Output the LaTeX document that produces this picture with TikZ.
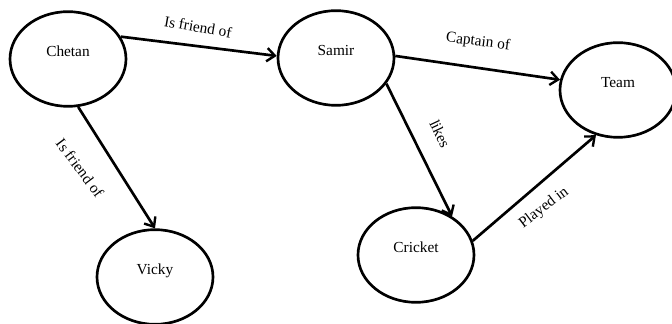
\documentclass[tikz,border=0pt]{standalone}
\usepackage{fontspec}
\setmainfont{Liberation Serif}
\usetikzlibrary{shapes.geometric, arrows.meta, positioning}

\begin{document}
\begin{tikzpicture}[x=0.75pt, y=-0.75pt,
	every node/.style={font=\fontsize{11.5}{13}\selectfont},
	entity/.style={draw, ellipse, line width=2pt, minimum width=87pt, minimum height=71pt, text height=8pt, text depth=12pt},
	rel/.style={inner sep=1pt},
	link/.style={line width=2pt, -{Straight Barb[length=6pt, width=10pt, line width=1.8pt]}}]
	\useasboundingbox (0,0) rectangle (672,324);
	% entities
	\node[entity] (chetan) at (68,59) {Chetan};
	\node[entity] (samir) at (336,58) {Samir};
	\node[entity] (team) at (618,90) {Team};
	\node[entity] (vicky) at (155,277) {Vicky};
	\node[entity] (cricket) at (416,255) {Cricket};
	% relations
	\draw[link] (chetan.23) -- (samir.178);
	\draw[link] (samir.2) -- (team.170);
	\draw[link] (samir.-27) -- (cricket.47);
	\draw[link] (cricket.14) -- (team.-116);
	\draw[link] (chetan.-78) -- (vicky.90);
	% labels
	\node[rel, rotate=-10] (friendA) at (198,27) {Is friend of};
	\node[rel, rotate=-7] (captain) at (478,42) {Captain of};
	\node[rel, rotate=-65] (likes) at (440,134) {likes};
	\node[rel, rotate=37] (played) at (544,208) {Played in};
	\node[rel, rotate=-53] (friendB) at (80,168) {Is friend of};
\end{tikzpicture}
\end{document}
